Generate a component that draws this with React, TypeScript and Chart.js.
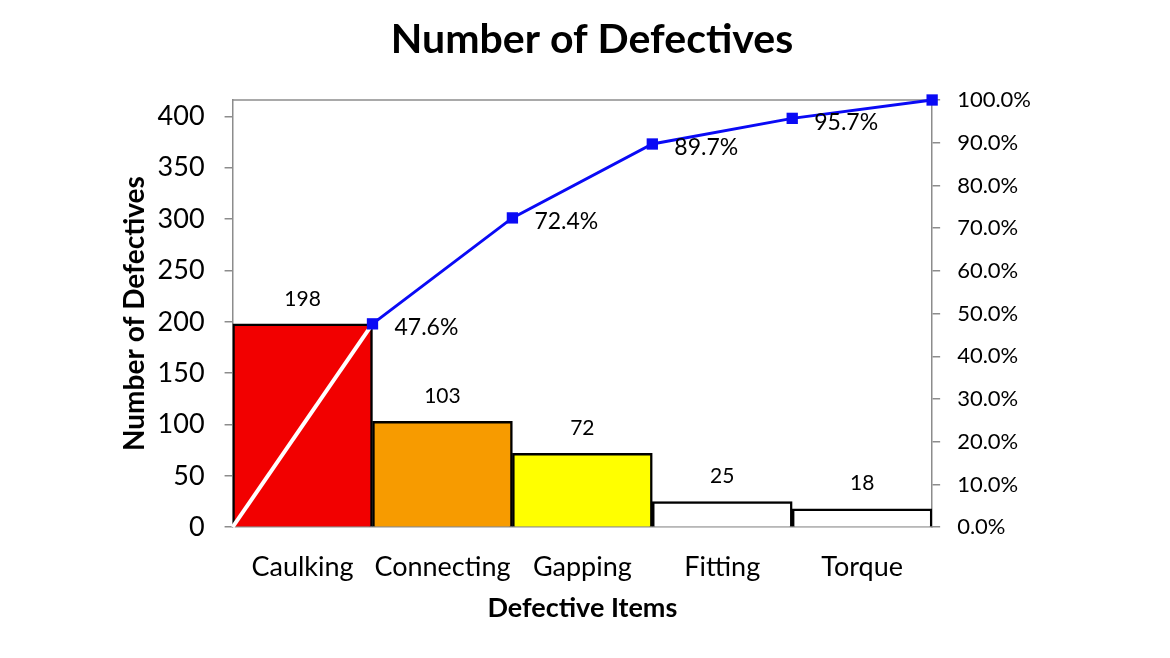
import React, { useEffect, useRef } from 'react';
import { Chart, registerables } from 'chart.js';
Chart.register(...registerables);

const chartTitle = 'Number of Defectives';
const categories = ['Caulking', 'Connecting', 'Gapping', 'Fitting', 'Torque'];
const defectCounts = [198, 103, 72, 25, 18];
const barColors = ['#F20000', '#F79B00', '#FFFF00', '#FFFFFF', '#FFFFFF'];
const cumulativePercent = [0, 47.6, 72.4, 89.7, 95.7, 100.0];
const cumulativeLabels = ['', '47.6%', '72.4%', '89.7%', '95.7%', ''];
const totalDefects = 416;
const leftTicks = [0, 50, 100, 150, 200, 250, 300, 350, 400];
const rightTicks = [0, 10, 20, 30, 40, 50, 60, 70, 80, 90, 100];

const FONT = 'Lato, "Open Sans", sans-serif';
const AXIS_GRAY = '#8c8c8c';
const BLUE = '#0A0AF5';

const framePlugin = {
  id: 'frame',
  beforeDatasetsDraw(chart: any) {
    const { ctx, chartArea } = chart;
    ctx.save();
    ctx.strokeStyle = AXIS_GRAY;
    ctx.lineWidth = 1.5;
    ctx.beginPath();
    ctx.moveTo(chartArea.left, chartArea.top);
    ctx.lineTo(chartArea.right, chartArea.top);
    ctx.stroke();
    ctx.restore();
  },
  afterDraw(chart: any) {
    const { ctx } = chart;
    ctx.save();
    ctx.fillStyle = '#000';
    ctx.font = `bold 41px ${FONT}`;
    ctx.textAlign = 'center';
    ctx.textBaseline = 'middle';
    ctx.fillText(chartTitle, 592, 40);
    ctx.restore();
  },
};

const labelPlugin = {
  id: 'valueLabels',
  afterDatasetsDraw(chart: any) {
    const { ctx } = chart;
    ctx.save();
    ctx.fillStyle = '#000';
    ctx.font = `21px ${FONT}`;
    const barMeta = chart.getDatasetMeta(0);
    ctx.textAlign = 'center';
    ctx.textBaseline = 'middle';
    barMeta.data.forEach((el: any, i: number) => {
      ctx.fillText(String(defectCounts[i]), el.x, el.y - 25);
    });
    ctx.font = `23px ${FONT}`;
    const lineMeta = chart.getDatasetMeta(1);
    ctx.textAlign = 'left';
    lineMeta.data.forEach((el: any, i: number) => {
      const t = cumulativeLabels[i];
      if (t) ctx.fillText(t, el.x + 22, el.y + 4);
    });
    ctx.restore();
  },
};

export default function App() {
  const ref = useRef<HTMLCanvasElement>(null);
  useEffect(() => {
    if (!ref.current) return;
    const chart = new Chart(ref.current, {
      type: 'bar',
      data: {
        labels: categories,
        datasets: [
          {
            type: 'bar',
            data: defectCounts,
            backgroundColor: barColors,
            borderColor: '#000',
            borderWidth: 2.5,
            barPercentage: 1,
            categoryPercentage: 1,
            grouped: false,
            xAxisID: 'x',
            yAxisID: 'y',
            order: 2,
          } as any,
          {
            type: 'line',
            data: cumulativePercent.map((v, i) => ({ x: i, y: v })),
            xAxisID: 'x2',
            yAxisID: 'y1',
            borderColor: BLUE,
            borderWidth: 3,
            pointStyle: 'rect',
            pointRadius: cumulativePercent.map((_, i) => (i === 0 ? 0 : 8)),
            pointBackgroundColor: BLUE,
            pointBorderWidth: 0,
            segment: {
              borderColor: (c: any) => (c.p0DataIndex === 0 ? '#FFFFFF' : BLUE),
              borderWidth: (c: any) => (c.p0DataIndex === 0 ? 4 : 3),
            },
            clip: false,
            order: 1,
          } as any,
        ],
      },
      options: {
        animation: false,
        responsive: true,
        maintainAspectRatio: false,
        layout: { padding: { left: 100, right: 122, top: 100, bottom: 34 } },
        plugins: {
          legend: { display: false },
          tooltip: { enabled: false },
          title: { display: false },
        },
        scales: {
          x: {
            type: 'category',
            offset: true,
            grid: { display: false, drawTicks: false },
            border: { display: true, color: AXIS_GRAY, width: 1.5 },
            ticks: { color: '#000', font: { family: FONT, size: 27 }, padding: 24, maxRotation: 0, autoSkip: false },
            title: {
              display: true,
              text: 'Defective Items',
              color: '#000',
              font: { family: FONT, size: 27, weight: 'bold' },
              padding: { top: -16, bottom: 0 },
            },
          },
          x2: {
            type: 'linear',
            min: 0,
            max: categories.length,
            offset: false,
            display: false,
          },
          y: {
            type: 'linear',
            position: 'left',
            min: 0,
            max: totalDefects,
            afterBuildTicks: (s: any) => {
              s.ticks = leftTicks.map((v) => ({ value: v }));
            },
            grid: { drawOnChartArea: false, drawTicks: true, tickLength: 8, color: AXIS_GRAY, lineWidth: 1.5 },
            border: { display: true, color: AXIS_GRAY, width: 1.5 },
            ticks: { color: '#000', font: { family: FONT, size: 27 }, padding: 20 },
            title: {
              display: true,
              text: 'Number of Defectives',
              color: '#000',
              font: { family: FONT, size: 28, weight: 'bold' },
              padding: { top: 18, bottom: -14 },
            },
          },
          y1: {
            type: 'linear',
            position: 'right',
            min: 0,
            max: 100,
            afterBuildTicks: (s: any) => {
              s.ticks = rightTicks.map((v) => ({ value: v }));
            },
            grid: { drawOnChartArea: false, drawTicks: true, tickLength: 8, color: AXIS_GRAY, lineWidth: 1.5 },
            border: { display: true, color: AXIS_GRAY, width: 1.5 },
            ticks: {
              color: '#000',
              font: { family: FONT, size: 22 },
              padding: 17,
              callback: (v: any) => Number(v).toFixed(1) + '%',
            },
          },
        },
      },
      plugins: [framePlugin, labelPlugin],
    });
    return () => chart.destroy();
  }, []);
  return (
    <div style={{ position: 'absolute', left: 0, top: 0, width: 1170, height: 658, background: '#fff' }}>
      <canvas ref={ref} />
    </div>
  );
}
